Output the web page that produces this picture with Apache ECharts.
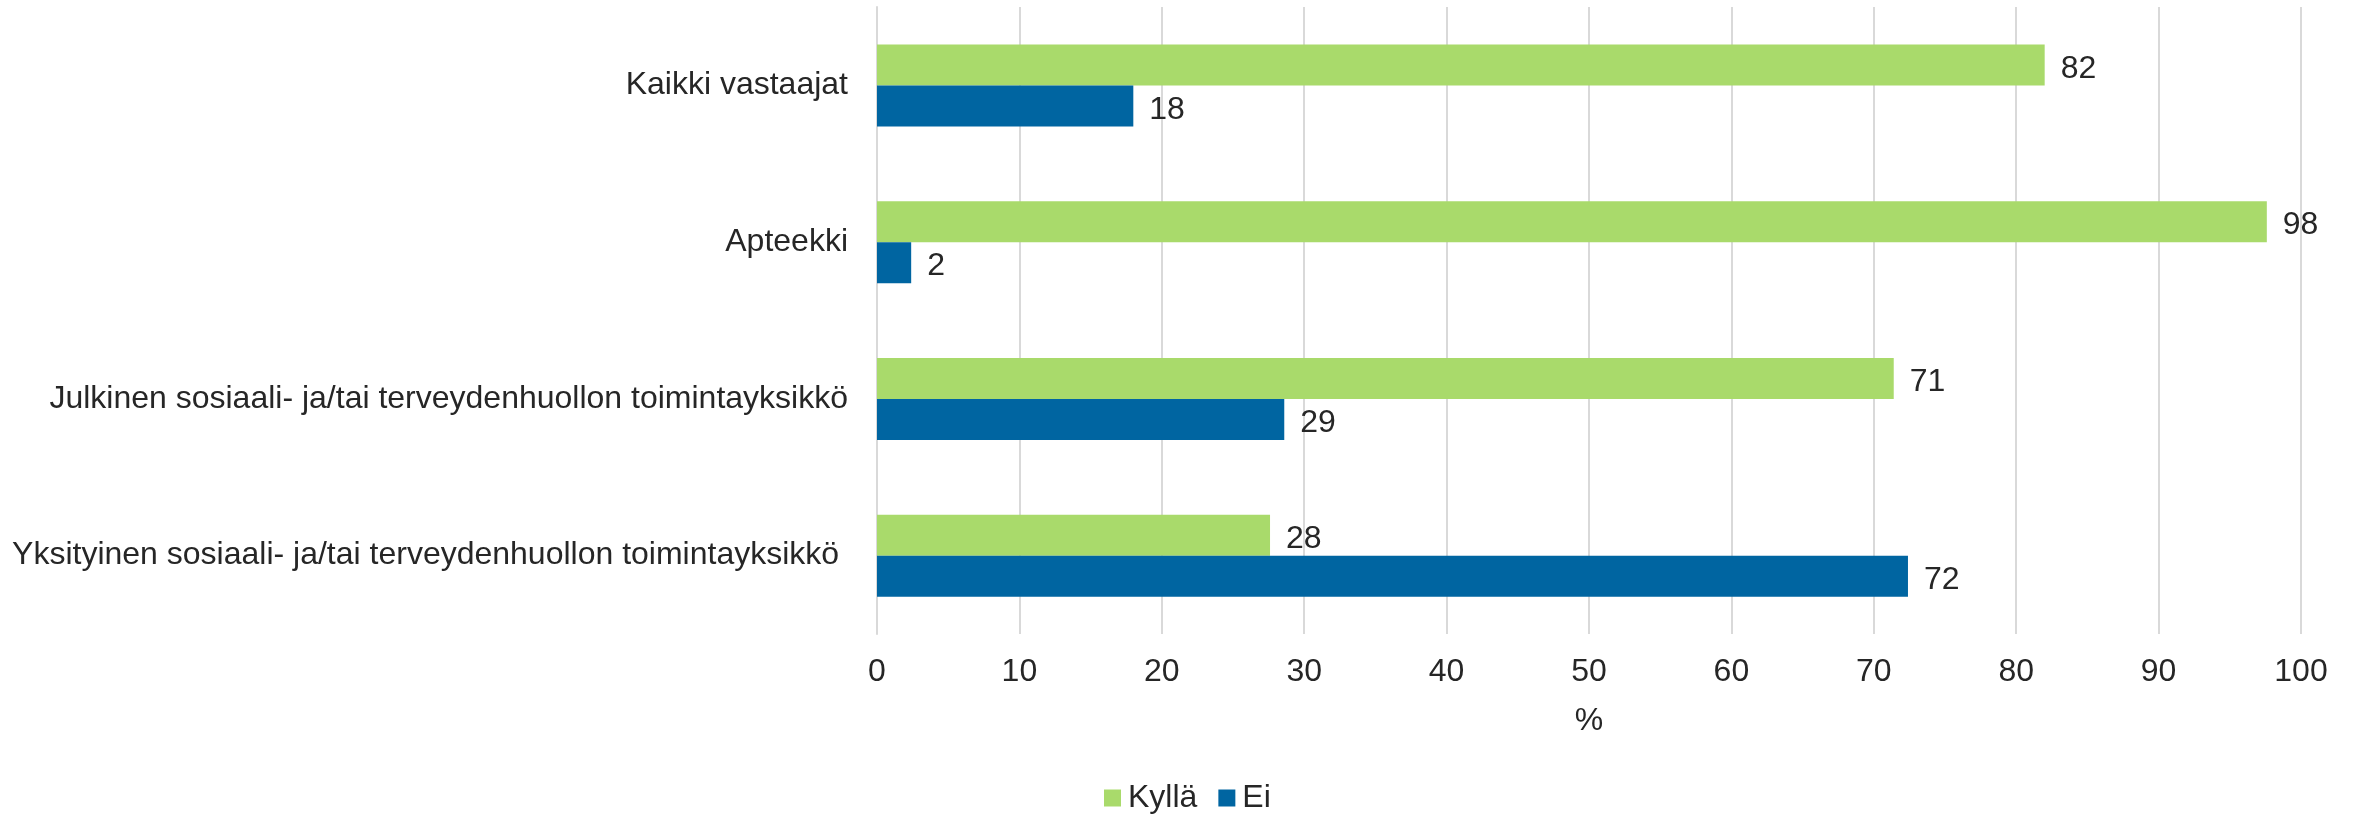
<!DOCTYPE html>
<html>
<head>
<meta charset="utf-8">
<script src="https://cdn.jsdelivr.net/npm/echarts@6/dist/echarts.min.js"></script>
<style>
  html, body { margin: 0; padding: 0; background: #fff; }
  #chart { width: 2356px; height: 814px; }
</style>
</head>
<body>
<div id="chart"></div>
<script>
// vastaajaryhmät (ylhäältä alas)
var categories = [
  'Kaikki vastaajat',
  'Apteekki',
  'Julkinen sosiaali- ja/tai terveydenhuollon toimintayksikkö',
  'Yksityinen sosiaali- ja/tai terveydenhuollon toimintayksikkö '
];
// osuudet prosentteina
var kyllaValues = [82, 97.6, 71.4, 27.6];
var eiValues = [18, 2.4, 28.6, 72.4];
var xTicks = [0, 10, 20, 30, 40, 50, 60, 70, 80, 90, 100];

var textColor = '#262626';
var font = 'Liberation Sans';

var chart = echarts.init(document.getElementById('chart'));

var valueLabel = {
  show: true,
  position: 'right',
  distance: 16,
  offset: [0, 4],
  fontFamily: font,
  fontSize: 32,
  color: textColor,
  formatter: function (p) { return Math.round(p.value); }
};

var option = {
  animation: false,
  grid: { left: 877, right: 55, top: 7, bottom: 180 },
  legend: {
    data: ['Kyllä', 'Ei'],
    left: 1099,
    top: 777,
    icon: 'rect',
    itemWidth: 17,
    itemHeight: 17,
    itemGap: 21,
    textStyle: { fontFamily: font, fontSize: 32, color: textColor, padding: [0, 0, 0, 2] }
  },
  xAxis: {
    type: 'value',
    min: xTicks[0],
    max: xTicks[xTicks.length - 1],
    interval: 10,
    name: '%',
    nameLocation: 'middle',
    nameGap: 71,
    nameTextStyle: { fontFamily: font, fontSize: 32, color: textColor },
    axisLine: { show: false },
    axisTick: { show: false },
    axisLabel: { margin: 22, fontFamily: font, fontSize: 32, color: textColor },
    splitLine: { lineStyle: { color: '#d9d9d9', width: 2 } }
  },
  yAxis: {
    type: 'category',
    inverse: true,
    data: categories,
    axisLine: { lineStyle: { color: '#d9d9d9', width: 2 } },
    axisTick: { show: false },
    axisLabel: { margin: 29, fontFamily: font, fontSize: 32, color: textColor }
  },
  series: [
    {
      name: 'Kyllä',
      type: 'bar',
      data: kyllaValues,
      barWidth: 41,
      barGap: '0%',
      itemStyle: { color: '#a9da6b' },
      label: valueLabel
    },
    {
      name: 'Ei',
      type: 'bar',
      data: eiValues,
      barWidth: 41,
      barGap: '0%',
      itemStyle: { color: '#0065a1' },
      label: valueLabel
    }
  ]
};

chart.setOption(option);
</script>
</body>
</html>
